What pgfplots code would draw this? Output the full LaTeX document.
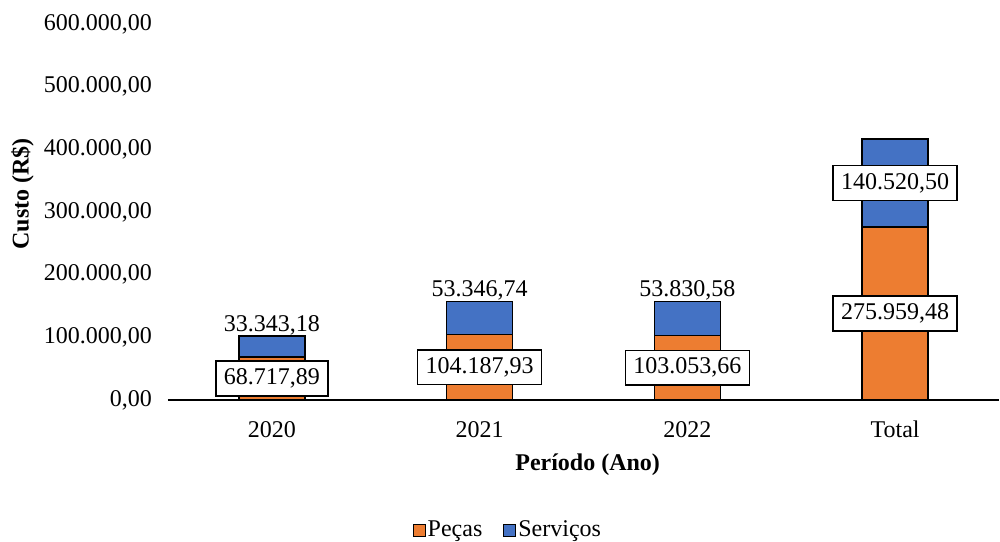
\documentclass[border=0pt]{standalone}
\usepackage{fontspec}
\setmainfont{Liberation Serif}
\usepackage{pgfplots}
\pgfplotsset{compat=1.18}
\definecolor{pecas}{HTML}{ED7D31}
\definecolor{serv}{HTML}{4472C4}
\pgfkeys{/pgf/number format/.cd, fixed, fixed zerofill, precision=2, use comma, 1000 sep={.}, assume math mode=true}

\begin{document}
\fontsize{24bp}{28bp}\selectfont
\begin{tikzpicture}[
  boxlbl/.style={fill=white, draw=black, line width=1.5bp, inner xsep=8bp, inner ysep=7.5bp, font=\fontsize{24bp}{28bp}\selectfont},
  toplbl/.style={anchor=south, inner sep=1bp, font=\fontsize{24bp}{28bp}\selectfont},
]
\begin{axis}[
  scale only axis, width=831bp, height=376bp, at={(0,0)}, anchor=south west,
  ybar stacked, bar width=66bp,
  xmin=-0.5, xmax=3.5, ymin=0, ymax=600000,
  xtick={0,1,2,3}, xticklabels={2020,2021,2022,Total},
  ytick={0,100000,...,600000},
  scaled y ticks=false,
  axis lines*=left,
  y axis line style={draw=none},
  x axis line style={black, line width=1.2bp},
  major tick length=0pt,
  ticklabel style={font=\fontsize{24bp}{28bp}\selectfont},
  yticklabel style={xshift=-8bp},
  xticklabel style={yshift=-13bp},
  xlabel={\textbf{Período (Ano)}},
  ylabel={\textbf{Custo (R\$)}},
  label style={font=\fontsize{24bp}{28bp}\selectfont},
  xlabel style={at={(axis description cs:0.505,-0.173)}, anchor=center},
  ylabel style={at={(axis description cs:-0.175,0.548)}, anchor=center, rotate=0},
  every axis plot/.append style={draw=black, line width=1.5bp},
  every axis plot post/.append style={legend image code/.code={\draw[#1, draw=black, line width=1bp] (0bp,-6bp) rectangle (12bp,6bp);}},
  legend style={at={(axis description cs:0.409,-0.348)}, anchor=center, draw=none,
    font=\fontsize{24bp}{28bp}\selectfont, legend columns=2,
    /tikz/every odd column/.append style={column sep=0bp},
    /tikz/every even column/.append style={column sep=19bp},
    legend cell align=left, inner sep=0bp},
  clip=false,
]
\addplot[fill=pecas] coordinates {(0,68717.89) (1,104187.93) (2,103053.66) (3,275959.48)};
\addplot[fill=serv] coordinates {(0,33343.18) (1,53346.74) (2,53830.58) (3,140520.50)};
\legend{Peças, Serviços}

% anchor points: middle of each segment and top of each bar
\coordinate (p0) at (axis cs:0,34358.945);
\coordinate (p1) at (axis cs:1,52093.965);
\coordinate (p2) at (axis cs:2,51526.83);
\coordinate (p3) at (axis cs:3,137979.74);
\coordinate (s0) at (axis cs:0,102061.07);
\coordinate (s1) at (axis cs:1,157534.67);
\coordinate (s2) at (axis cs:2,156884.24);
\coordinate (s3) at (axis cs:3,346219.73);
\end{axis}
% value labels, drawn over the bars
\node[boxlbl] at (p0) {\pgfmathprintnumber{68717.89}};
\node[boxlbl] at (p1) {\pgfmathprintnumber{104187.93}};
\node[boxlbl] at (p2) {\pgfmathprintnumber{103053.66}};
\node[boxlbl] at (p3) {\pgfmathprintnumber{275959.48}};
\node[toplbl] at (s0) {\pgfmathprintnumber{33343.18}};
\node[toplbl] at (s1) {\pgfmathprintnumber{53346.74}};
\node[toplbl] at (s2) {\pgfmathprintnumber{53830.58}};
\node[boxlbl] at (s3) {\pgfmathprintnumber{140520.50}};
\pgfresetboundingbox
\path (-168bp,-142bp) rectangle (832bp,400bp);
\end{tikzpicture}
\end{document}
